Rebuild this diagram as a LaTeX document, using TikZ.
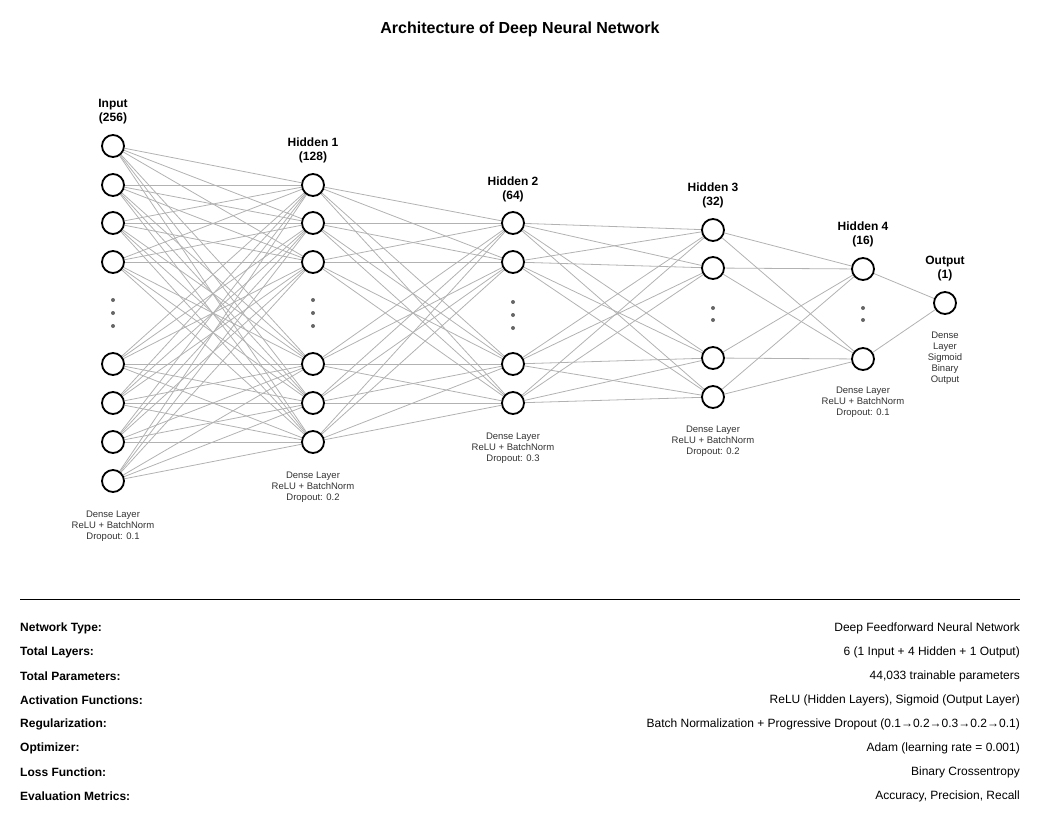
\documentclass[tikz,border=0pt]{standalone}
\usepackage{fontspec}
\setmainfont{Liberation Sans}
\pgfdeclarelayer{bg}
\pgfsetlayers{bg,main}
\tikzset{
  neuron/.style={circle,draw=black,line width=1.8pt,fill=white,minimum size=22pt,inner sep=0pt},
  edge/.style={draw=gray!60,line width=0.8pt},
  ddot/.style={circle,fill=black!60,inner sep=0pt,minimum size=4pt},
  layertitle/.style={font=\fontsize{12}{14}\selectfont\bfseries,align=center,anchor=south,inner sep=0pt},
  layerinfo/.style={font=\fontsize{9.5}{11}\selectfont,text=black!80,align=center,anchor=north,inner sep=0pt},
  rowkey/.style={font=\fontsize{12}{14}\selectfont\bfseries,anchor=west,inner sep=0pt},
  rowval/.style={font=\fontsize{12}{14}\selectfont,anchor=east,inner sep=0pt}
}
\begin{document}
\begin{tikzpicture}[x=1pt,y=-1pt]
            \useasboundingbox (0,0) rectangle (1042,831);
            \node[font=\fontsize{16}{18}\selectfont\bfseries] (title) at (520,29) {Architecture of Deep Neural Network};
            % layers
            \foreach \y [count=\i] in {146,185,223,262,364,403,442,481}
                \node[neuron] (in\i) at (113,\y) {};
            \foreach \y [count=\i] in {185,223,262,364,403,442}
                \node[neuron] (ha\i) at (313,\y) {};
            \foreach \y [count=\i] in {223,262,364,403}
                \node[neuron] (hb\i) at (513,\y) {};
            \foreach \y [count=\i] in {230,268,358,397}
                \node[neuron] (hc\i) at (713,\y) {};
            \foreach \y [count=\i] in {269,359}
                \node[neuron] (hd\i) at (863,\y) {};
            \node[neuron] (out) at (945,303) {};
            % skipped neurons
            \foreach \y in {300,313,326} {
                \node[ddot] at (113,\y) {};
                \node[ddot] at (313,\y) {};
                \node[ddot] at (513,\y+2) {};
            }
            \foreach \y in {308,320} {
                \node[ddot] at (713,\y) {};
                \node[ddot] at (863,\y) {};
            }
            % weights
            \begin{pgfonlayer}{bg}
                \foreach \i in {1,...,8}
                    \foreach \j in {1,...,6}
                        \draw[edge] (in\i) -- (ha\j);
                \foreach \i in {1,...,6}
                    \foreach \j in {1,...,4}
                        \draw[edge] (ha\i) -- (hb\j);
                \foreach \i in {1,...,4}
                    \foreach \j in {1,...,4}
                        \draw[edge] (hb\i) -- (hc\j);
                \foreach \i in {1,...,4}
                    \foreach \j in {1,2}
                        \draw[edge] (hc\i) -- (hd\j);
                \foreach \i in {1,2}
                    \draw[edge] (hd\i) -- (out);
            \end{pgfonlayer}
            % titles
            \node[layertitle] (tin) at (113,124) {Input\\(256)};
            \node[layertitle] (tha) at (313,163) {Hidden 1\\(128)};
            \node[layertitle] (thb) at (513,202) {Hidden 2\\(64)};
            \node[layertitle] (thc) at (713,208) {Hidden 3\\(32)};
            \node[layertitle] (thd) at (863,247) {Hidden 4\\(16)};
            \node[layertitle] (tout) at (945,281) {Output\\(1)};
            % layer info
            \node[layerinfo] (iin) at (113,511) {Dense Layer\\ReLU + BatchNorm\\Dropout: 0.1};
            \node[layerinfo] (iha) at (313,472) {Dense Layer\\ReLU + BatchNorm\\Dropout: 0.2};
            \node[layerinfo] (ihb) at (513,433) {Dense Layer\\ReLU + BatchNorm\\Dropout: 0.3};
            \node[layerinfo] (ihc) at (713,426) {Dense Layer\\ReLU + BatchNorm\\Dropout: 0.2};
            \node[layerinfo] (ihd) at (863,387) {Dense Layer\\ReLU + BatchNorm\\Dropout: 0.1};
            \node[layerinfo] (iout) at (945,332) {Dense\\Layer\\Sigmoid\\Binary\\Output};
            % summary
            \draw[black,line width=0.8pt] (20,599) -- (1020,599);
            \foreach \k/\v [count=\r] in {Network Type:/Deep Feedforward Neural Network,
                Total Layers:/6 (1 Input + 4 Hidden + 1 Output),
                Total Parameters:/{44,033 trainable parameters},
                Activation Functions:/{ReLU (Hidden Layers), Sigmoid (Output Layer)},
                Regularization:/Batch Normalization + Progressive Dropout (0.1→0.2→0.3→0.2→0.1),
                Optimizer:/Adam (learning rate = 0.001),
                Loss Function:/Binary Crossentropy,
                Evaluation Metrics:/{Accuracy, Precision, Recall}} {
                \node[rowkey] (key\r) at (20,604+24*\r) {\k};
                \node[rowval] (val\r) at (1020,604+24*\r) {\v};
            }
\end{tikzpicture}
\end{document}
